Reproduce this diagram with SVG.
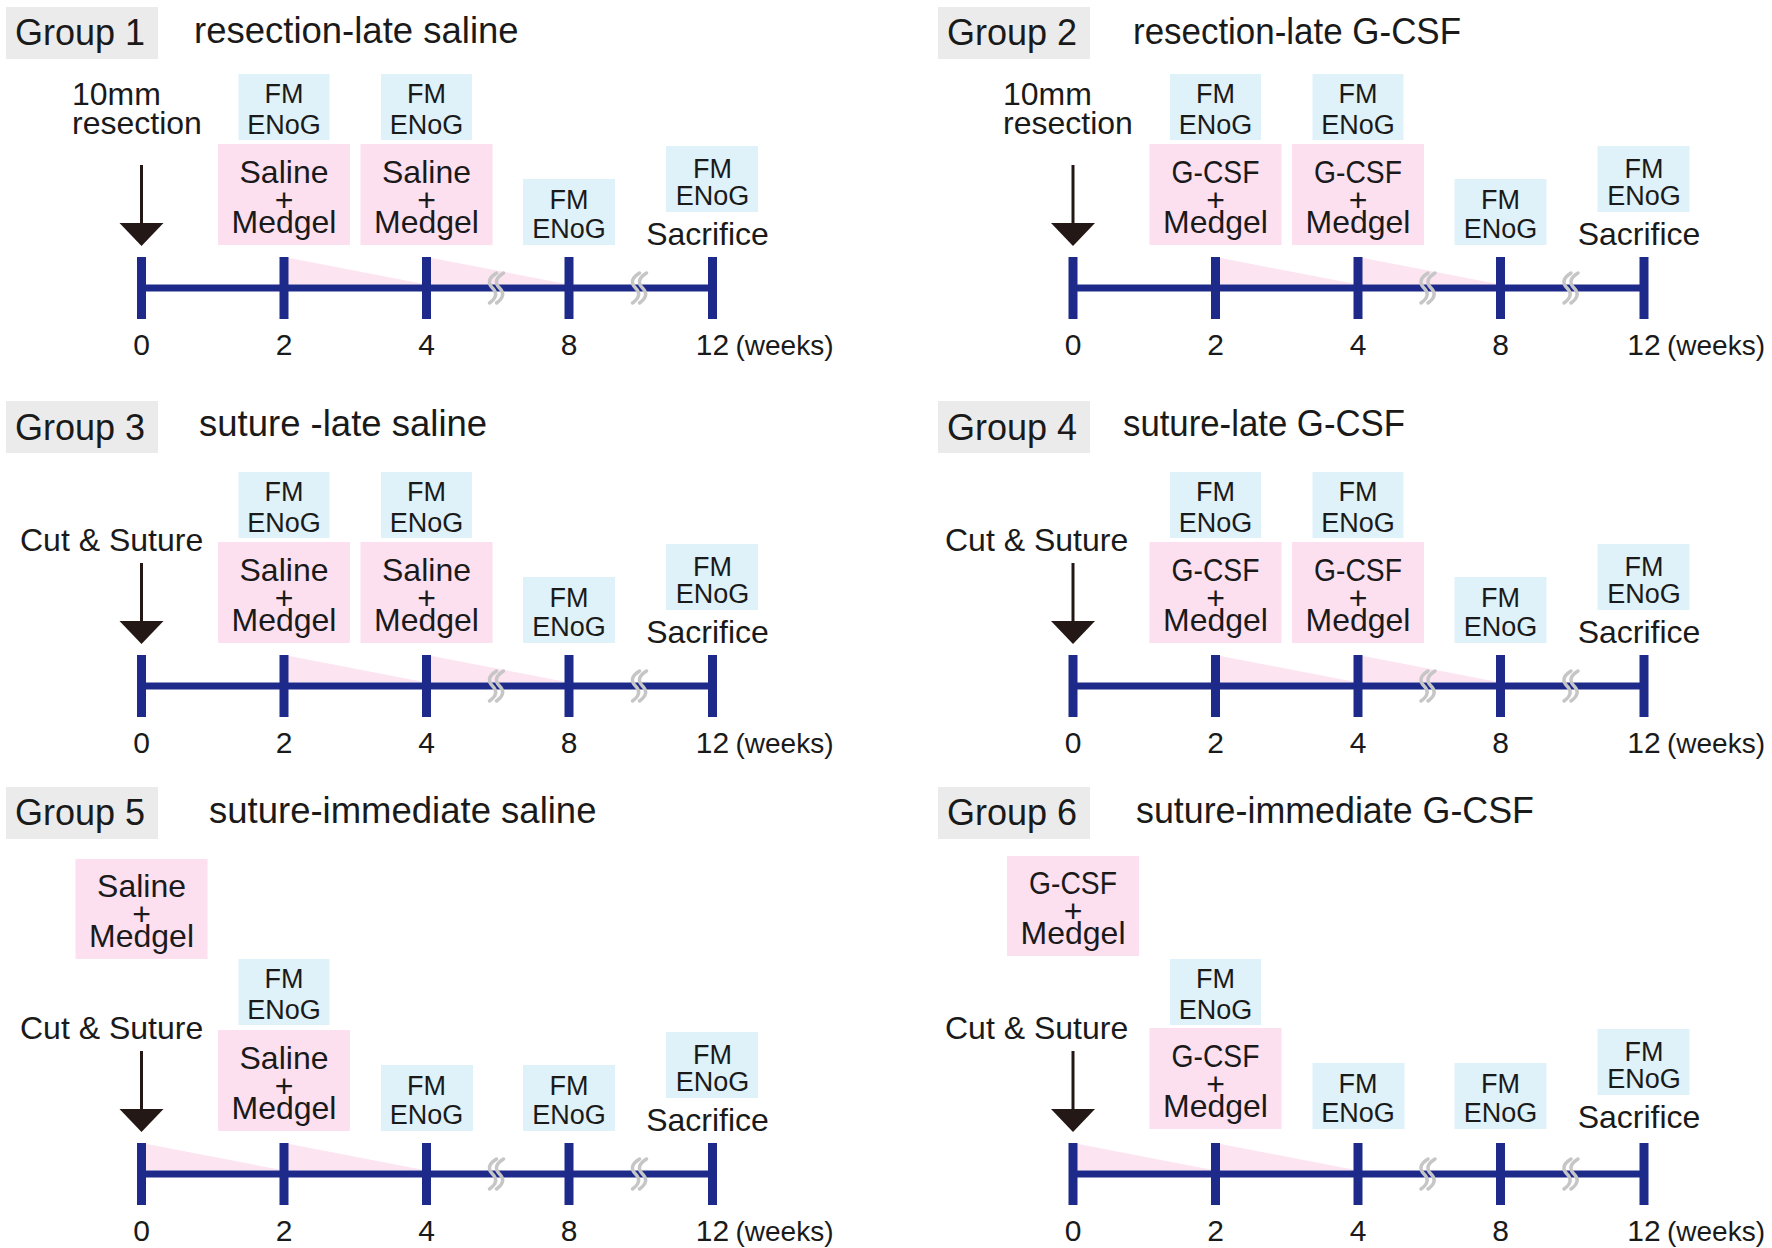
<svg xmlns="http://www.w3.org/2000/svg" width="1772" height="1248" viewBox="0 0 1772 1248">
<style>
.bg{fill:#ffffff}
.hdr{fill:#ebebeb}
.t{font-family:"Liberation Sans",Arial,sans-serif;fill:#1a1a1a}
.gl{font-size:36px}
.ttl{font-size:36.5px}
.fm{fill:#dff1f9}
.tx{fill:#fde0f0}
.s27{font-size:27px;text-anchor:middle}
.s32{font-size:32px}
.mid{text-anchor:middle}
.num{font-size:30px;text-anchor:middle}
.wk{font-size:28px}
.axis{stroke:#1e2a8a;stroke-width:7}
.tick{fill:#1e2a8a}
.fade{fill:#fce4f1}
.shaft{stroke:#231815;stroke-width:3}
.head{fill:#231815}
</style>
<defs>
<g id="brk" fill="none" stroke="#c6c6c6" stroke-width="3.5" stroke-linecap="round"><path d="M1,-15 C-7,-10 -8,-5 -3,0 C2,5 1,10 -6,15"/><path d="M8,-15 C0,-10 -1,-5 4,0 C9,5 8,10 1,15"/></g>
</defs>
<rect class="bg" x="0" y="0" width="1772" height="1248"/>

<!-- Headers -->
<g id="header1"><rect class="hdr" x="6" y="7" width="152" height="52"/><text class="t gl" x="15" y="45">Group 1</text><text class="t ttl" x="194" y="43">resection-late saline</text></g>
<g id="header2"><rect class="hdr" x="938" y="7" width="152" height="52"/><text class="t gl" x="947" y="45">Group 2</text><text class="t ttl" x="1133" y="44" textLength="328" lengthAdjust="spacingAndGlyphs">resection-late G-CSF</text></g>
<g id="header3"><rect class="hdr" x="6" y="401" width="152" height="52"/><text class="t gl" x="15" y="440">Group 3</text><text class="t ttl" x="199" y="436">suture -late saline</text></g>
<g id="header4"><rect class="hdr" x="938" y="401" width="152" height="52"/><text class="t gl" x="947" y="440">Group 4</text><text class="t ttl" x="1123" y="436" textLength="282" lengthAdjust="spacingAndGlyphs">suture-late G-CSF</text></g>
<g id="header5"><rect class="hdr" x="6" y="787" width="152" height="52"/><text class="t gl" x="15" y="825">Group 5</text><text class="t ttl" x="209" y="823">suture-immediate saline</text></g>
<g id="header6"><rect class="hdr" x="938" y="787" width="152" height="52"/><text class="t gl" x="947" y="825">Group 6</text><text class="t ttl" x="1136" y="823" textLength="398" lengthAdjust="spacingAndGlyphs">suture-immediate G-CSF</text></g>

<!-- Panel 1 -->
<g id="panel1" transform="translate(141.5,257)">
 <g id="p1-connectors">
  <polygon class="fade" points="142.5,0 285,27.5 142.5,27.5"/>
  <polygon class="fade" points="285,0 427.5,27.5 285,27.5"/>
  <line class="axis" x1="0" y1="31" x2="571" y2="31"/>
  <rect class="tick" x="-4.5" y="0" width="9" height="62"/>
  <rect class="tick" x="138" y="0" width="9" height="62"/>
  <rect class="tick" x="280.5" y="0" width="9" height="62"/>
  <rect class="tick" x="423" y="0" width="9" height="62"/>
  <rect class="tick" x="566.5" y="0" width="9" height="62"/>
  <use href="#brk" x="354" y="31"/>
  <use href="#brk" x="497" y="31"/>
  <line class="shaft" x1="0" y1="-92" x2="0" y2="-32"/>
  <polygon class="head" points="-22,-34 22,-34 0,-11"/>
 </g>
 <g id="p1-event"><text class="t s32"><tspan x="-69.5" y="-152">10mm</tspan><tspan x="-69.5" y="-123">resection</tspan></text></g>
 <g id="p1-fm2"><rect class="fm" x="97" y="-183" width="91" height="66"/><text class="t s27"><tspan x="142.5" y="-154">FM</tspan><tspan x="142.5" y="-123">ENoG</tspan></text></g>
 <g id="p1-tx2"><rect class="tx" x="76.5" y="-113" width="132" height="101"/><text class="t s32 mid"><tspan x="142.5" y="-74">Saline</tspan><tspan x="142.5" y="-46">+</tspan><tspan x="142.5" y="-24">Medgel</tspan></text></g>
 <g id="p1-fm4"><rect class="fm" x="239.5" y="-183" width="91" height="66"/><text class="t s27"><tspan x="285" y="-154">FM</tspan><tspan x="285" y="-123">ENoG</tspan></text></g>
 <g id="p1-tx4"><rect class="tx" x="219" y="-113" width="132" height="101"/><text class="t s32 mid"><tspan x="285" y="-74">Saline</tspan><tspan x="285" y="-46">+</tspan><tspan x="285" y="-24">Medgel</tspan></text></g>
 <g id="p1-fm8"><rect class="fm" x="381.5" y="-78" width="92" height="66"/><text class="t s27"><tspan x="427.5" y="-48">FM</tspan><tspan x="427.5" y="-19">ENoG</tspan></text></g>
 <g id="p1-fm12"><rect class="fm" x="524.5" y="-111" width="92" height="66"/><text class="t s27"><tspan x="571" y="-79">FM</tspan><tspan x="571" y="-52">ENoG</tspan></text><text class="t s32 mid" x="566" y="-12">Sacrifice</text></g>
 <g id="p1-labels"><text class="t num" x="0" y="98">0</text><text class="t num" x="142.5" y="98">2</text><text class="t num" x="285" y="98">4</text><text class="t num" x="427.5" y="98">8</text><text class="t num" x="571" y="98">12</text><text class="t wk" x="594" y="98">(weeks)</text></g>
</g>

<!-- Panel 2 -->
<g id="panel2" transform="translate(1073,257)">
 <g id="p2-connectors">
  <polygon class="fade" points="142.5,0 285,27.5 142.5,27.5"/>
  <polygon class="fade" points="285,0 427.5,27.5 285,27.5"/>
  <line class="axis" x1="0" y1="31" x2="571" y2="31"/>
  <rect class="tick" x="-4.5" y="0" width="9" height="62"/>
  <rect class="tick" x="138" y="0" width="9" height="62"/>
  <rect class="tick" x="280.5" y="0" width="9" height="62"/>
  <rect class="tick" x="423" y="0" width="9" height="62"/>
  <rect class="tick" x="566.5" y="0" width="9" height="62"/>
  <use href="#brk" x="354" y="31"/>
  <use href="#brk" x="497" y="31"/>
  <line class="shaft" x1="0" y1="-92" x2="0" y2="-32"/>
  <polygon class="head" points="-22,-34 22,-34 0,-11"/>
 </g>
 <g id="p2-event"><text class="t s32"><tspan x="-70" y="-152">10mm</tspan><tspan x="-70" y="-123">resection</tspan></text></g>
 <g id="p2-fm2"><rect class="fm" x="97" y="-183" width="91" height="66"/><text class="t s27"><tspan x="142.5" y="-154">FM</tspan><tspan x="142.5" y="-123">ENoG</tspan></text></g>
 <g id="p2-tx2"><rect class="tx" x="76.5" y="-113" width="132" height="101"/><text class="t s32 mid"><tspan x="142.5" y="-74" textLength="88" lengthAdjust="spacingAndGlyphs">G-CSF</tspan><tspan x="142.5" y="-46">+</tspan><tspan x="142.5" y="-24">Medgel</tspan></text></g>
 <g id="p2-fm4"><rect class="fm" x="239.5" y="-183" width="91" height="66"/><text class="t s27"><tspan x="285" y="-154">FM</tspan><tspan x="285" y="-123">ENoG</tspan></text></g>
 <g id="p2-tx4"><rect class="tx" x="219" y="-113" width="132" height="101"/><text class="t s32 mid"><tspan x="285" y="-74" textLength="88" lengthAdjust="spacingAndGlyphs">G-CSF</tspan><tspan x="285" y="-46">+</tspan><tspan x="285" y="-24">Medgel</tspan></text></g>
 <g id="p2-fm8"><rect class="fm" x="381.5" y="-78" width="92" height="66"/><text class="t s27"><tspan x="427.5" y="-48">FM</tspan><tspan x="427.5" y="-19">ENoG</tspan></text></g>
 <g id="p2-fm12"><rect class="fm" x="524.5" y="-111" width="92" height="66"/><text class="t s27"><tspan x="571" y="-79">FM</tspan><tspan x="571" y="-52">ENoG</tspan></text><text class="t s32 mid" x="566" y="-12">Sacrifice</text></g>
 <g id="p2-labels"><text class="t num" x="0" y="98">0</text><text class="t num" x="142.5" y="98">2</text><text class="t num" x="285" y="98">4</text><text class="t num" x="427.5" y="98">8</text><text class="t num" x="571" y="98">12</text><text class="t wk" x="594" y="98">(weeks)</text></g>
</g>

<!-- Panel 3 -->
<g id="panel3" transform="translate(141.5,655)">
 <g id="p3-connectors">
  <polygon class="fade" points="142.5,0 285,27.5 142.5,27.5"/>
  <polygon class="fade" points="285,0 427.5,27.5 285,27.5"/>
  <line class="axis" x1="0" y1="31" x2="571" y2="31"/>
  <rect class="tick" x="-4.5" y="0" width="9" height="62"/>
  <rect class="tick" x="138" y="0" width="9" height="62"/>
  <rect class="tick" x="280.5" y="0" width="9" height="62"/>
  <rect class="tick" x="423" y="0" width="9" height="62"/>
  <rect class="tick" x="566.5" y="0" width="9" height="62"/>
  <use href="#brk" x="354" y="31"/>
  <use href="#brk" x="497" y="31"/>
  <line class="shaft" x1="0" y1="-92" x2="0" y2="-32"/>
  <polygon class="head" points="-22,-34 22,-34 0,-11"/>
 </g>
 <g id="p3-event"><text class="t s32" x="-121.5" y="-104">Cut &amp; Suture</text></g>
 <g id="p3-fm2"><rect class="fm" x="97" y="-183" width="91" height="66"/><text class="t s27"><tspan x="142.5" y="-154">FM</tspan><tspan x="142.5" y="-123">ENoG</tspan></text></g>
 <g id="p3-tx2"><rect class="tx" x="76.5" y="-113" width="132" height="101"/><text class="t s32 mid"><tspan x="142.5" y="-74">Saline</tspan><tspan x="142.5" y="-46">+</tspan><tspan x="142.5" y="-24">Medgel</tspan></text></g>
 <g id="p3-fm4"><rect class="fm" x="239.5" y="-183" width="91" height="66"/><text class="t s27"><tspan x="285" y="-154">FM</tspan><tspan x="285" y="-123">ENoG</tspan></text></g>
 <g id="p3-tx4"><rect class="tx" x="219" y="-113" width="132" height="101"/><text class="t s32 mid"><tspan x="285" y="-74">Saline</tspan><tspan x="285" y="-46">+</tspan><tspan x="285" y="-24">Medgel</tspan></text></g>
 <g id="p3-fm8"><rect class="fm" x="381.5" y="-78" width="92" height="66"/><text class="t s27"><tspan x="427.5" y="-48">FM</tspan><tspan x="427.5" y="-19">ENoG</tspan></text></g>
 <g id="p3-fm12"><rect class="fm" x="524.5" y="-111" width="92" height="66"/><text class="t s27"><tspan x="571" y="-79">FM</tspan><tspan x="571" y="-52">ENoG</tspan></text><text class="t s32 mid" x="566" y="-12">Sacrifice</text></g>
 <g id="p3-labels"><text class="t num" x="0" y="98">0</text><text class="t num" x="142.5" y="98">2</text><text class="t num" x="285" y="98">4</text><text class="t num" x="427.5" y="98">8</text><text class="t num" x="571" y="98">12</text><text class="t wk" x="594" y="98">(weeks)</text></g>
</g>

<!-- Panel 4 -->
<g id="panel4" transform="translate(1073,655)">
 <g id="p4-connectors">
  <polygon class="fade" points="142.5,0 285,27.5 142.5,27.5"/>
  <polygon class="fade" points="285,0 427.5,27.5 285,27.5"/>
  <line class="axis" x1="0" y1="31" x2="571" y2="31"/>
  <rect class="tick" x="-4.5" y="0" width="9" height="62"/>
  <rect class="tick" x="138" y="0" width="9" height="62"/>
  <rect class="tick" x="280.5" y="0" width="9" height="62"/>
  <rect class="tick" x="423" y="0" width="9" height="62"/>
  <rect class="tick" x="566.5" y="0" width="9" height="62"/>
  <use href="#brk" x="354" y="31"/>
  <use href="#brk" x="497" y="31"/>
  <line class="shaft" x1="0" y1="-92" x2="0" y2="-32"/>
  <polygon class="head" points="-22,-34 22,-34 0,-11"/>
 </g>
 <g id="p4-event"><text class="t s32" x="-128" y="-104">Cut &amp; Suture</text></g>
 <g id="p4-fm2"><rect class="fm" x="97" y="-183" width="91" height="66"/><text class="t s27"><tspan x="142.5" y="-154">FM</tspan><tspan x="142.5" y="-123">ENoG</tspan></text></g>
 <g id="p4-tx2"><rect class="tx" x="76.5" y="-113" width="132" height="101"/><text class="t s32 mid"><tspan x="142.5" y="-74" textLength="88" lengthAdjust="spacingAndGlyphs">G-CSF</tspan><tspan x="142.5" y="-46">+</tspan><tspan x="142.5" y="-24">Medgel</tspan></text></g>
 <g id="p4-fm4"><rect class="fm" x="239.5" y="-183" width="91" height="66"/><text class="t s27"><tspan x="285" y="-154">FM</tspan><tspan x="285" y="-123">ENoG</tspan></text></g>
 <g id="p4-tx4"><rect class="tx" x="219" y="-113" width="132" height="101"/><text class="t s32 mid"><tspan x="285" y="-74" textLength="88" lengthAdjust="spacingAndGlyphs">G-CSF</tspan><tspan x="285" y="-46">+</tspan><tspan x="285" y="-24">Medgel</tspan></text></g>
 <g id="p4-fm8"><rect class="fm" x="381.5" y="-78" width="92" height="66"/><text class="t s27"><tspan x="427.5" y="-48">FM</tspan><tspan x="427.5" y="-19">ENoG</tspan></text></g>
 <g id="p4-fm12"><rect class="fm" x="524.5" y="-111" width="92" height="66"/><text class="t s27"><tspan x="571" y="-79">FM</tspan><tspan x="571" y="-52">ENoG</tspan></text><text class="t s32 mid" x="566" y="-12">Sacrifice</text></g>
 <g id="p4-labels"><text class="t num" x="0" y="98">0</text><text class="t num" x="142.5" y="98">2</text><text class="t num" x="285" y="98">4</text><text class="t num" x="427.5" y="98">8</text><text class="t num" x="571" y="98">12</text><text class="t wk" x="594" y="98">(weeks)</text></g>
</g>

<!-- Panel 5 -->
<g id="panel5" transform="translate(141.5,1143)">
 <g id="p5-connectors">
  <polygon class="fade" points="0,0 142.5,27.5 0,27.5"/>
  <polygon class="fade" points="142.5,0 285,27.5 142.5,27.5"/>
  <line class="axis" x1="0" y1="31" x2="571" y2="31"/>
  <rect class="tick" x="-4.5" y="0" width="9" height="62"/>
  <rect class="tick" x="138" y="0" width="9" height="62"/>
  <rect class="tick" x="280.5" y="0" width="9" height="62"/>
  <rect class="tick" x="423" y="0" width="9" height="62"/>
  <rect class="tick" x="566.5" y="0" width="9" height="62"/>
  <use href="#brk" x="354" y="31"/>
  <use href="#brk" x="497" y="31"/>
  <line class="shaft" x1="0" y1="-92" x2="0" y2="-32"/>
  <polygon class="head" points="-22,-34 22,-34 0,-11"/>
 </g>
 <g id="p5-tx0"><rect class="tx" x="-66" y="-284" width="132" height="100"/><text class="t s32 mid"><tspan x="0" y="-246">Saline</tspan><tspan x="0" y="-218">+</tspan><tspan x="0" y="-196">Medgel</tspan></text></g>
 <g id="p5-event"><text class="t s32" x="-121.5" y="-104">Cut &amp; Suture</text></g>
 <g id="p5-fm2"><rect class="fm" x="97" y="-184" width="91" height="66"/><text class="t s27"><tspan x="142.5" y="-155">FM</tspan><tspan x="142.5" y="-124">ENoG</tspan></text></g>
 <g id="p5-tx2"><rect class="tx" x="76.5" y="-113" width="132" height="101"/><text class="t s32 mid"><tspan x="142.5" y="-74">Saline</tspan><tspan x="142.5" y="-46">+</tspan><tspan x="142.5" y="-24">Medgel</tspan></text></g>
 <g id="p5-fm4"><rect class="fm" x="239.5" y="-78" width="92" height="66"/><text class="t s27"><tspan x="285" y="-48">FM</tspan><tspan x="285" y="-19">ENoG</tspan></text></g>
 <g id="p5-fm8"><rect class="fm" x="381.5" y="-78" width="92" height="66"/><text class="t s27"><tspan x="427.5" y="-48">FM</tspan><tspan x="427.5" y="-19">ENoG</tspan></text></g>
 <g id="p5-fm12"><rect class="fm" x="524.5" y="-111" width="92" height="66"/><text class="t s27"><tspan x="571" y="-79">FM</tspan><tspan x="571" y="-52">ENoG</tspan></text><text class="t s32 mid" x="566" y="-12">Sacrifice</text></g>
 <g id="p5-labels"><text class="t num" x="0" y="98">0</text><text class="t num" x="142.5" y="98">2</text><text class="t num" x="285" y="98">4</text><text class="t num" x="427.5" y="98">8</text><text class="t num" x="571" y="98">12</text><text class="t wk" x="594" y="98">(weeks)</text></g>
</g>

<!-- Panel 6 -->
<g id="panel6" transform="translate(1073,1143)">
 <g id="p6-connectors">
  <polygon class="fade" points="0,0 142.5,27.5 0,27.5"/>
  <polygon class="fade" points="142.5,0 285,27.5 142.5,27.5"/>
  <line class="axis" x1="0" y1="31" x2="571" y2="31"/>
  <rect class="tick" x="-4.5" y="0" width="9" height="62"/>
  <rect class="tick" x="138" y="0" width="9" height="62"/>
  <rect class="tick" x="280.5" y="0" width="9" height="62"/>
  <rect class="tick" x="423" y="0" width="9" height="62"/>
  <rect class="tick" x="566.5" y="0" width="9" height="62"/>
  <use href="#brk" x="354" y="31"/>
  <use href="#brk" x="497" y="31"/>
  <line class="shaft" x1="0" y1="-92" x2="0" y2="-32"/>
  <polygon class="head" points="-22,-34 22,-34 0,-11"/>
 </g>
 <g id="p6-tx0"><rect class="tx" x="-66" y="-287" width="132" height="100"/><text class="t s32 mid"><tspan x="0" y="-249" textLength="88" lengthAdjust="spacingAndGlyphs">G-CSF</tspan><tspan x="0" y="-221">+</tspan><tspan x="0" y="-199">Medgel</tspan></text></g>
 <g id="p6-event"><text class="t s32" x="-128" y="-104">Cut &amp; Suture</text></g>
 <g id="p6-fm2"><rect class="fm" x="97" y="-184" width="91" height="66"/><text class="t s27"><tspan x="142.5" y="-155">FM</tspan><tspan x="142.5" y="-124">ENoG</tspan></text></g>
 <g id="p6-tx2"><rect class="tx" x="76.5" y="-115" width="132" height="101"/><text class="t s32 mid"><tspan x="142.5" y="-76" textLength="88" lengthAdjust="spacingAndGlyphs">G-CSF</tspan><tspan x="142.5" y="-48">+</tspan><tspan x="142.5" y="-26">Medgel</tspan></text></g>
 <g id="p6-fm4"><rect class="fm" x="239.5" y="-80" width="92" height="66"/><text class="t s27"><tspan x="285" y="-50">FM</tspan><tspan x="285" y="-21">ENoG</tspan></text></g>
 <g id="p6-fm8"><rect class="fm" x="381.5" y="-80" width="92" height="66"/><text class="t s27"><tspan x="427.5" y="-50">FM</tspan><tspan x="427.5" y="-21">ENoG</tspan></text></g>
 <g id="p6-fm12"><rect class="fm" x="524.5" y="-114" width="92" height="66"/><text class="t s27"><tspan x="571" y="-82">FM</tspan><tspan x="571" y="-55">ENoG</tspan></text><text class="t s32 mid" x="566" y="-15">Sacrifice</text></g>
 <g id="p6-labels"><text class="t num" x="0" y="98">0</text><text class="t num" x="142.5" y="98">2</text><text class="t num" x="285" y="98">4</text><text class="t num" x="427.5" y="98">8</text><text class="t num" x="571" y="98">12</text><text class="t wk" x="594" y="98">(weeks)</text></g>
</g>
</svg>
